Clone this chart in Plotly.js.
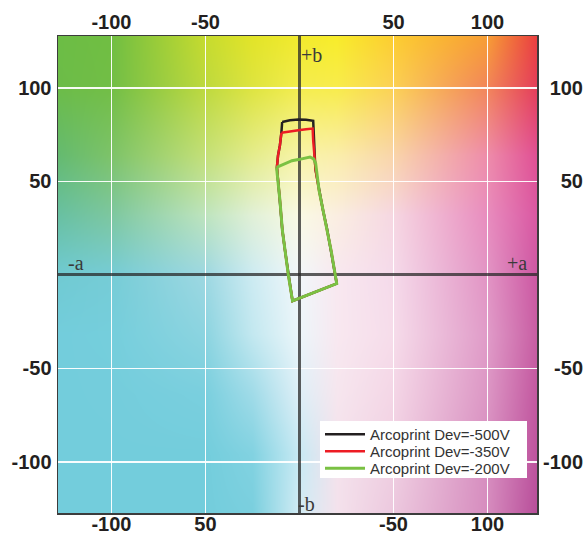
<!DOCTYPE html>
<html><head><meta charset="utf-8">
<script src="https://cdn.plot.ly/plotly-3.0.1.min.js"></script>
<style>html,body{margin:0;padding:0;background:#fff}#chart{width:587px;height:537px}</style>
</head><body><div id="chart"></div>
<script>
// ---- series (CIELAB a*, b*) ----
const seriesNames = ['Arcoprint Dev=-500V', 'Arcoprint Dev=-350V', 'Arcoprint Dev=-200V'];
const seriesColors = ['#231f20', '#ed1c24', '#7ac143'];

const black_a = [-9.2,-5.1,-0.6,3.5,7.3,7.5,7.7,8.3,8.6,10.4,12.5,14.6,16.8,19.8,-3.7,-5.9,-7.7,-9.1,-10.4,-11.7,-12.0,-11.4,-10.4,-9.6,-9.2];
const black_b = [81.8,82.7,83.1,83.0,82.4,77.4,66.7,59.7,56.0,45.3,34.6,25.0,13.2,-4.6,-13.9,-0.2,13.2,23.9,40.0,53.3,57.6,64.0,69.4,76.3,81.8];

const red_a = [-9.6,-5.1,-0.6,3.5,7.0,7.3,7.7,8.3,8.6,10.4,12.5,14.6,16.8,19.8,-3.7,-5.9,-7.7,-9.1,-10.4,-11.7,-12.0,-11.4,-10.4,-9.6];
const red_b = [76.0,76.8,77.4,77.9,78.3,72.0,66.7,59.7,56.0,45.3,34.6,25.0,13.2,-4.6,-13.9,-0.2,13.2,23.9,40.0,53.3,57.6,64.0,69.4,76.0];

const green_a = [-12.2,-7.7,-4.0,-0.6,2.9,5.6,7.5,8.6,10.4,12.5,14.6,16.8,19.8,-3.7,-5.9,-7.7,-9.1,-10.4,-11.7,-12.2];
const green_b = [57.6,59.7,61.1,61.7,62.7,63.1,62.1,59.7,45.3,34.6,25.0,13.2,-4.6,-13.9,-0.2,13.2,23.9,40.0,53.3,57.6];

// ---- axes ----
const aRange = [-128.4, 126.3];
const bRange = [-127.3, 127.8];
const tickVals = [-100, -50, 50, 100];
const topTickText = ['-100', '-50', '50', '100'];
const bottomTickText = ['-100', '50', '-50', '100'];
const sideTickText = ['-100', '-50', '50', '100'];
const axisNames = ['+b', '-b', '-a', '+a'];

// ---- background colour field anchors (a*, b* grid, rows top->bottom) ----
const bgA = [-128.4, -100, -50, -25, 0, 20, 50, 100, 126.3];
const bgB = [127.8, 100, 64, 32, 0, -32, -64, -96, -127.3];
const bgRows = [
  ['#6cbd45','#70be42','#c6db2e','#e2e428','#f2ea2d','#f8ec2a','#fccd30','#f79e34','#ea3e40'],
  ['#6cbc48','#72be46','#bed93e','#dee440','#f4ed4e','#f8ec4c','#fbd155','#f2855a','#e43e5a'],
  ['#64ba70','#7dc369','#c4e078','#e4ec8c','#f8f4a8','#faeeaa','#f9d5aa','#ee8caa','#e05094'],
  ['#68c0a2','#7dc7a0','#bee4be','#e1f0d7','#fafae4','#faeee1','#f6d7e2','#e88cbe','#da58a2'],
  ['#70cad2','#76ccd6','#9ed8e2','#cdebf2','#f2f7fa','#f8e8f0','#f5daea','#e294c4','#cd58a3'],
  ['#73cddc','#75cedc','#8cd4e0','#c3e8f0','#ecf6fa','#f8e8f0','#f6dcea','#e09bc8','#c85ea3'],
  ['#73cddc','#74cddc','#7acfde','#a0dbe8','#deeff7','#f6e6ee','#f4d6e6','#dc96c4','#c358a0'],
  ['#73cddc','#73cddc','#73cddc','#82d2e1','#c8eaf4','#f4e2ec','#f0d0e2','#d78ec0','#be549e'],
  ['#73cddc','#73cddc','#73cddc','#7acfde','#d2ecf5','#f4e2ec','#ecc8de','#d68cbe','#b84e9a']
];

function hex2rgb(h) { return [parseInt(h.slice(1,3),16), parseInt(h.slice(3,5),16), parseInt(h.slice(5,7),16)]; }
function findSeg(arr, v, desc) {
  for (let i = 0; i < arr.length - 1; i++) {
    const lo = desc ? arr[i+1] : arr[i], hi = desc ? arr[i] : arr[i+1];
    if (v >= lo && v <= hi) return i;
  }
  return (desc ? (v > arr[0] ? 0 : arr.length - 2) : (v < arr[0] ? 0 : arr.length - 2));
}
const bgRGB = bgRows.map(r => r.map(hex2rgb));
function bgColor(a, b) {
  const i = findSeg(bgA, a, false), j = findSeg(bgB, b, true);
  const tx = Math.min(1, Math.max(0, (a - bgA[i]) / (bgA[i+1] - bgA[i])));
  const ty = Math.min(1, Math.max(0, (bgB[j] - b) / (bgB[j] - bgB[j+1])));
  const c00 = bgRGB[j][i], c10 = bgRGB[j][i+1], c01 = bgRGB[j+1][i], c11 = bgRGB[j+1][i+1];
  return [0,1,2].map(k => Math.round((c00[k]*(1-tx) + c10[k]*tx)*(1-ty) + (c01[k]*(1-tx) + c11[k]*tx)*ty));
}
function makeBackground() {
  const W = 480, H = 478;
  const cv = document.createElement('canvas');
  cv.width = W; cv.height = H;
  const ctx = cv.getContext('2d');
  const img = ctx.createImageData(W, H);
  for (let r = 0; r < H; r++) {
    const b = bRange[1] - (r + 0.5) * (bRange[1] - bRange[0]) / H;
    for (let c = 0; c < W; c++) {
      const a = aRange[0] + (c + 0.5) * (aRange[1] - aRange[0]) / W;
      const col = bgColor(a, b);
      const p = (r * W + c) * 4;
      img.data[p] = col[0]; img.data[p+1] = col[1]; img.data[p+2] = col[2]; img.data[p+3] = 255;
    }
  }
  ctx.putImageData(img, 0, 0);
  return cv.toDataURL('image/png');
}

const traces = [
  { type: 'scatter', mode: 'lines', name: seriesNames[0], x: black_a, y: black_b, line: { color: seriesColors[0], width: 2.5 }, legend: 'legend' },
  { type: 'scatter', mode: 'lines', name: seriesNames[1], x: red_a, y: red_b, line: { color: seriesColors[1], width: 2.5 }, legend: 'legend2' },
  { type: 'scatter', mode: 'lines', name: seriesNames[2], x: green_a, y: green_b, line: { color: seriesColors[2], width: 3 }, legend: 'legend3' },
  { type: 'scatter', mode: 'lines', x: [], y: [], xaxis: 'x2', yaxis: 'y2', showlegend: false, hoverinfo: 'skip' }
];

const tickFont = { family: 'Liberation Sans, Arial, sans-serif', size: 20, color: '#231f20', weight: 700 };
const plotW = 525, plotH = 477, mL = 58, mT = 36;
const plotFrac = 479 / plotW;
const legendFont = { family: 'Liberation Sans, Arial, sans-serif', size: 15, color: '#333333' };
function legendAt(topPx) {
  return { x: (320 - mL) / plotW, xanchor: 'left', y: (mT + plotH - topPx) / plotH, yanchor: 'top',
           bgcolor: 'rgba(0,0,0,0)', borderwidth: 0, itemwidth: 40, font: legendFont };
}
const layout = {
  width: 587, height: 537,
  margin: { l: mL, r: 4, t: mT, b: 24, pad: 0 },
  paper_bgcolor: '#ffffff', plot_bgcolor: '#ffffff',
  showlegend: true,
  legend: legendAt(418),
  legend2: legendAt(435),
  legend3: legendAt(452),
  images: [{
    source: makeBackground(), xref: 'x', yref: 'y',
    x: aRange[0], y: bRange[1], sizex: aRange[1] - aRange[0], sizey: bRange[1] - bRange[0],
    xanchor: 'left', yanchor: 'top', sizing: 'stretch', layer: 'below'
  }],
  shapes: [{
    type: 'rect', xref: 'paper', yref: 'paper', layer: 'above',
    x0: (320 - mL) / plotW, x1: (527 - mL) / plotW,
    y0: (mT + plotH - 478) / plotH, y1: (mT + plotH - 421) / plotH,
    fillcolor: '#ffffff', line: { width: 0 }
  }],
  xaxis: {
    domain: [0, plotFrac], range: aRange, autorange: false, side: 'top', anchor: 'y',
    tickmode: 'array', tickvals: tickVals, ticktext: topTickText, ticks: '',
    showgrid: true, gridcolor: 'rgba(255,255,255,0.95)', gridwidth: 1.5,
    zeroline: true, zerolinecolor: 'rgba(40,40,40,0.75)', zerolinewidth: 3.5,
    showline: true, mirror: true, linecolor: '#3c3c3c', linewidth: 1.5,
    tickfont: tickFont, ticklabelstandoff: -2, fixedrange: true
  },
  xaxis2: {
    overlaying: 'x', anchor: 'y', side: 'bottom', range: aRange, autorange: false,
    tickmode: 'array', tickvals: tickVals, ticktext: bottomTickText, ticks: '',
    showgrid: false, zeroline: false, showline: false, tickfont: tickFont, ticklabelstandoff: -3, fixedrange: true
  },
  yaxis: {
    range: bRange, autorange: false, side: 'left',
    tickmode: 'array', tickvals: tickVals, ticktext: sideTickText, ticks: '',
    showgrid: true, gridcolor: 'rgba(255,255,255,0.95)', gridwidth: 1.5,
    zeroline: true, zerolinecolor: 'rgba(40,40,40,0.75)', zerolinewidth: 3,
    showline: true, mirror: true, linecolor: '#3c3c3c', linewidth: 1.5,
    tickfont: tickFont, ticklabelstandoff: 1, fixedrange: true
  },
  yaxis2: {
    overlaying: 'y', anchor: 'free', position: 1, side: 'left', range: bRange, autorange: false,
    tickmode: 'array', tickvals: tickVals, ticktext: sideTickText, ticks: '',
    showgrid: false, zeroline: false, showline: false, tickfont: tickFont, fixedrange: true
  },
  annotations: [
    { xref: 'x', yref: 'y', x: -0.5, y: 117.5, text: axisNames[0], showarrow: false, xanchor: 'left', yanchor: 'middle' },
    { xref: 'x', yref: 'y', x: -1.9, y: -122.5, text: axisNames[1], showarrow: false, xanchor: 'left', yanchor: 'middle' },
    { xref: 'x', yref: 'y', x: -124.3, y: 6.5, text: axisNames[2], showarrow: false, xanchor: 'left', yanchor: 'middle' },
    { xref: 'x', yref: 'y', x: 109.4, y: 6.5, text: axisNames[3], showarrow: false, xanchor: 'left', yanchor: 'middle' }
  ].map(a => Object.assign(a, { font: { family: 'Liberation Serif, DejaVu Serif, serif', size: 20, color: '#3a3a3a' } }))
};

Plotly.newPlot('chart', traces, layout, { displayModeBar: false, staticPlot: true });
</script>
</body></html>
